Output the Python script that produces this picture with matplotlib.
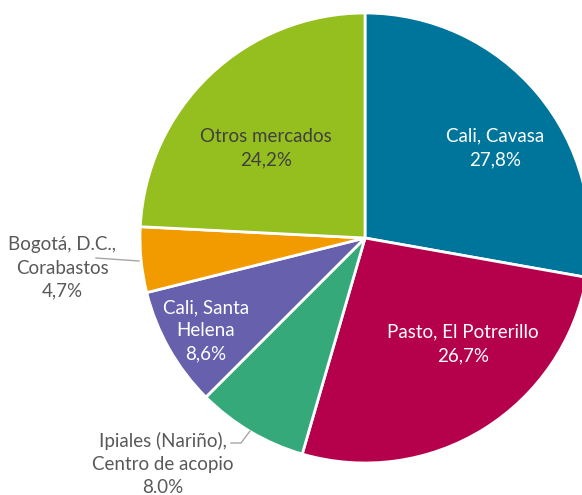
import matplotlib.pyplot as plt

# market shares, clockwise from the top
markets = ["Cali, Cavasa", "Pasto, El Potrerillo", "Ipiales (Nariño),\nCentro de acopio",
           "Cali, Santa\nHelena", "Bogotá, D.C.,\nCorabastos", "Otros mercados"]
shares = [27.8, 26.7, 8.0, 8.6, 4.7, 24.2]
pct_labels = ["27,8%", "26,7%", "8.0%", "8,6%", "4,7%", "24,2%"]

colors = ["#00759c", "#b5004b", "#36a97a", "#6660ad", "#f29b00", "#95be1f"]
text_colors = ["white", "white", "#595959", "white", "#595959", "#404040"]

plt.rcParams['font.family'] = ['Lato', 'DejaVu Sans']

fig = plt.figure(figsize=(5.82, 4.95), dpi=100)
ax = fig.add_axes([0, 0, 1, 1])

wedges, _ = ax.pie(shares, colors=colors, startangle=90, counterclock=False,
                   radius=1, wedgeprops=dict(edgecolor="white", linewidth=2))

# pixel -> data helper (center at 365,238 px, radius 225 px)
def px(x, y):
    return (x - 365) / 225, (238 - y) / 225

label_px = [(495, 148), (463, 344), (163, 464), (206, 331), (62, 268), (266, 148)]
for name, pct, pos, tc in zip(markets, pct_labels, label_px, text_colors):
    x, y = px(*pos)
    ax.text(x, y, name + "\n" + pct, ha="center", va="center", color=tc,
            fontsize=13.5, linespacing=1.45)

# leader lines
lx, ly = zip(px(96, 258), px(139, 261))
ax.plot(lx, ly, color="#a6a6a6", lw=1)
lx, ly = zip(px(231, 443), px(241, 443), px(250, 431))
ax.plot(lx, ly, color="#a6a6a6", lw=1)

ax.set_xlim(-365 / 225, (582 - 365) / 225)
ax.set_ylim(-(495 - 238) / 225, 238 / 225)
ax.set_aspect("auto")
ax.axis("off")

fig.savefig("out.png", dpi=100)
